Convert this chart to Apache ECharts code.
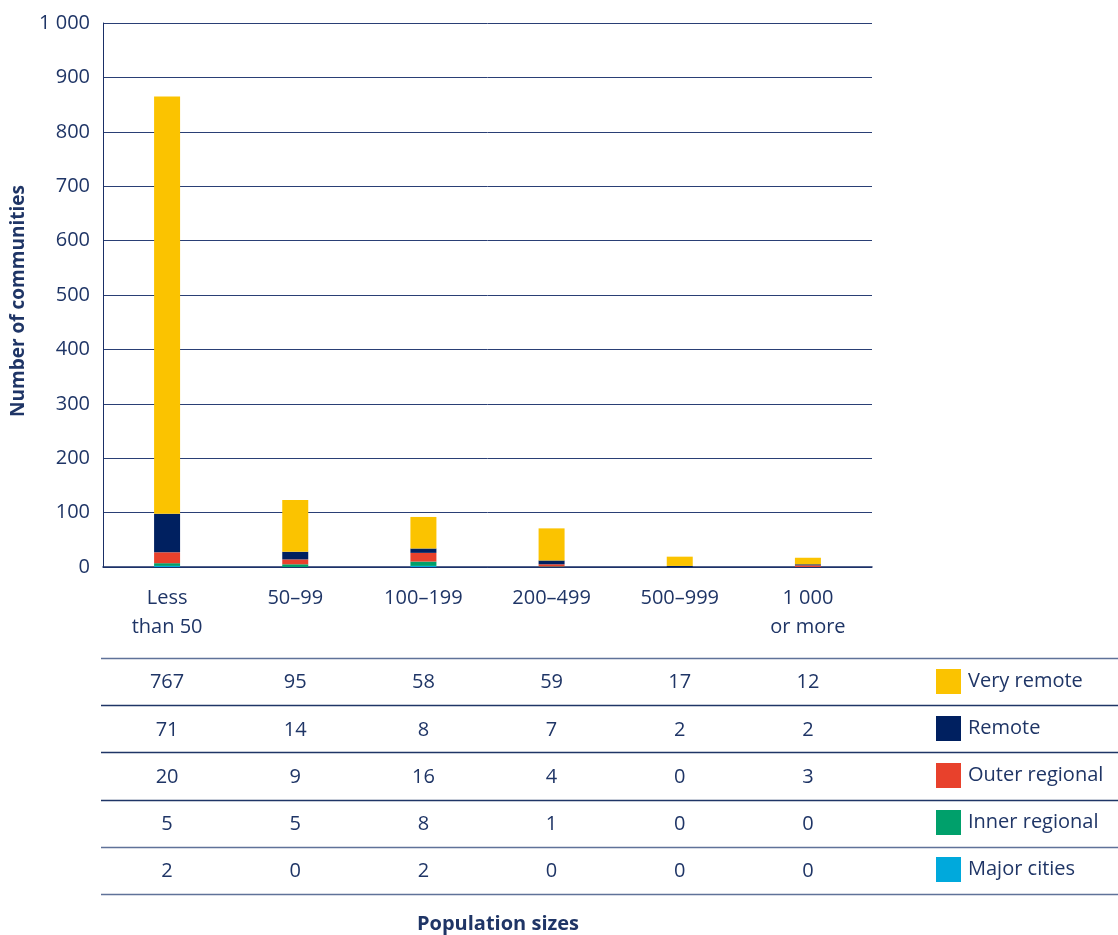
<!DOCTYPE html>
<html><head><meta charset="utf-8">
<script src="https://cdn.jsdelivr.net/npm/echarts@6/dist/echarts.min.js"></script>
<style>html,body{margin:0;padding:0;background:#fff}#c{width:1118px;height:935px}</style>
</head><body><div id="c"></div>
<script>
const categories = ['Less\nthan 50', '50–99', '100–199', '200–499', '500–999', '1 000\nor more'];
const seriesNames = ['Very remote', 'Remote', 'Outer regional', 'Inner regional', 'Major cities'];
const veryRemote = [767, 95, 58, 59, 17, 12];
const remote = [71, 14, 8, 7, 2, 2];
const outerRegional = [20, 9, 16, 4, 0, 3];
const innerRegional = [5, 5, 8, 1, 0, 0];
const majorCities = [2, 0, 2, 0, 0, 0];
const colors = ['#FBC300', '#002060', '#E8412C', '#00A06B', '#00A9DC'];
const seriesData = [veryRemote, remote, outerRegional, innerRegional, majorCities];

const FONT = 'Open Sans';
const TXT = '#1f3566';
const chart = echarts.init(document.getElementById('c'), null, {renderer: 'canvas'});

// stacking bottom to top: major cities first
const order = [4, 3, 2, 1, 0];
const series = order.map(i => ({
  name: seriesNames[i], type: 'bar', stack: 'total', data: seriesData[i],
  barWidth: 26, itemStyle: {color: colors[i]}
}));

chart.setOption({
  animation: false,
  textStyle: {fontFamily: FONT},
  grid: {left: 103, right: 246, top: 23, bottom: 368, containLabel: false, outerBoundsMode: 'none'},
  legend: {
    data: seriesNames, orient: 'vertical', left: 931, top: 664,
    itemWidth: 25, itemHeight: 25, itemGap: 22, icon: 'rect',
    textStyle: {fontSize: 20, color: TXT, fontFamily: FONT, padding: [0, 0, 0, 2]},
    selectedMode: false
  },
  xAxis: {
    type: 'category', data: categories,
    axisLine: {lineStyle: {color: '#1a2f66', width: 1.5}},
    axisTick: {show: false},
    axisLabel: {color: TXT, fontSize: 20, margin: 17, lineHeight: 29, interval: 0}
  },
  yAxis: {
    type: 'value', min: 0, max: 1000, interval: 100,
    axisLine: {show: true, lineStyle: {color: '#1a2f66', width: 1}},
    axisTick: {show: false},
    splitLine: {lineStyle: {color: '#2a3f75', width: 1}},
    axisLabel: {color: TXT, fontSize: 20, margin: 13,
      formatter: v => v >= 1000 ? String(v).replace(/(\d)(\d{3})$/, '$1 $2') : String(v)},
    name: 'Number of communities', nameLocation: 'middle', nameGap: 73, nameRotate: 90,
    nameTextStyle: {color: TXT, fontSize: 19, fontWeight: 'bold', padding: [0, 12, 0, 0]}
  },
  series: series
});

function buildTable() {
  const rowTop = 658, rowH = 47.2;
  const els = [];
  for (let r = 0; r <= seriesNames.length; r++) {
    const y = Math.round(rowTop + r * rowH) + 0.5;
    els.push({type: 'line', shape: {x1: 101, y1: y, x2: 1118, y2: y},
      style: {stroke: (r === 0 || r >= 4) ? '#5f7299' : '#1f3566', lineWidth: 1.5}, silent: true});
  }
  seriesData.forEach((arr, r) => {
    arr.forEach((v, c) => {
      const x = chart.convertToPixel({xAxisIndex: 0}, c);
      els.push({type: 'text', x: x, y: rowTop + r * rowH + rowH / 2 + 1,
        style: {text: String(v), fill: TXT, font: '20px "' + FONT + '"', align: 'center', verticalAlign: 'middle'}, silent: true});
    });
  });
  els.push({type: 'text', x: 498, y: 924,
    style: {text: 'Population sizes', fill: TXT, font: 'bold 20px "' + FONT + '"', align: 'center', verticalAlign: 'middle'}});
  chart.setOption({graphic: els});
}
buildTable();
</script></body></html>
